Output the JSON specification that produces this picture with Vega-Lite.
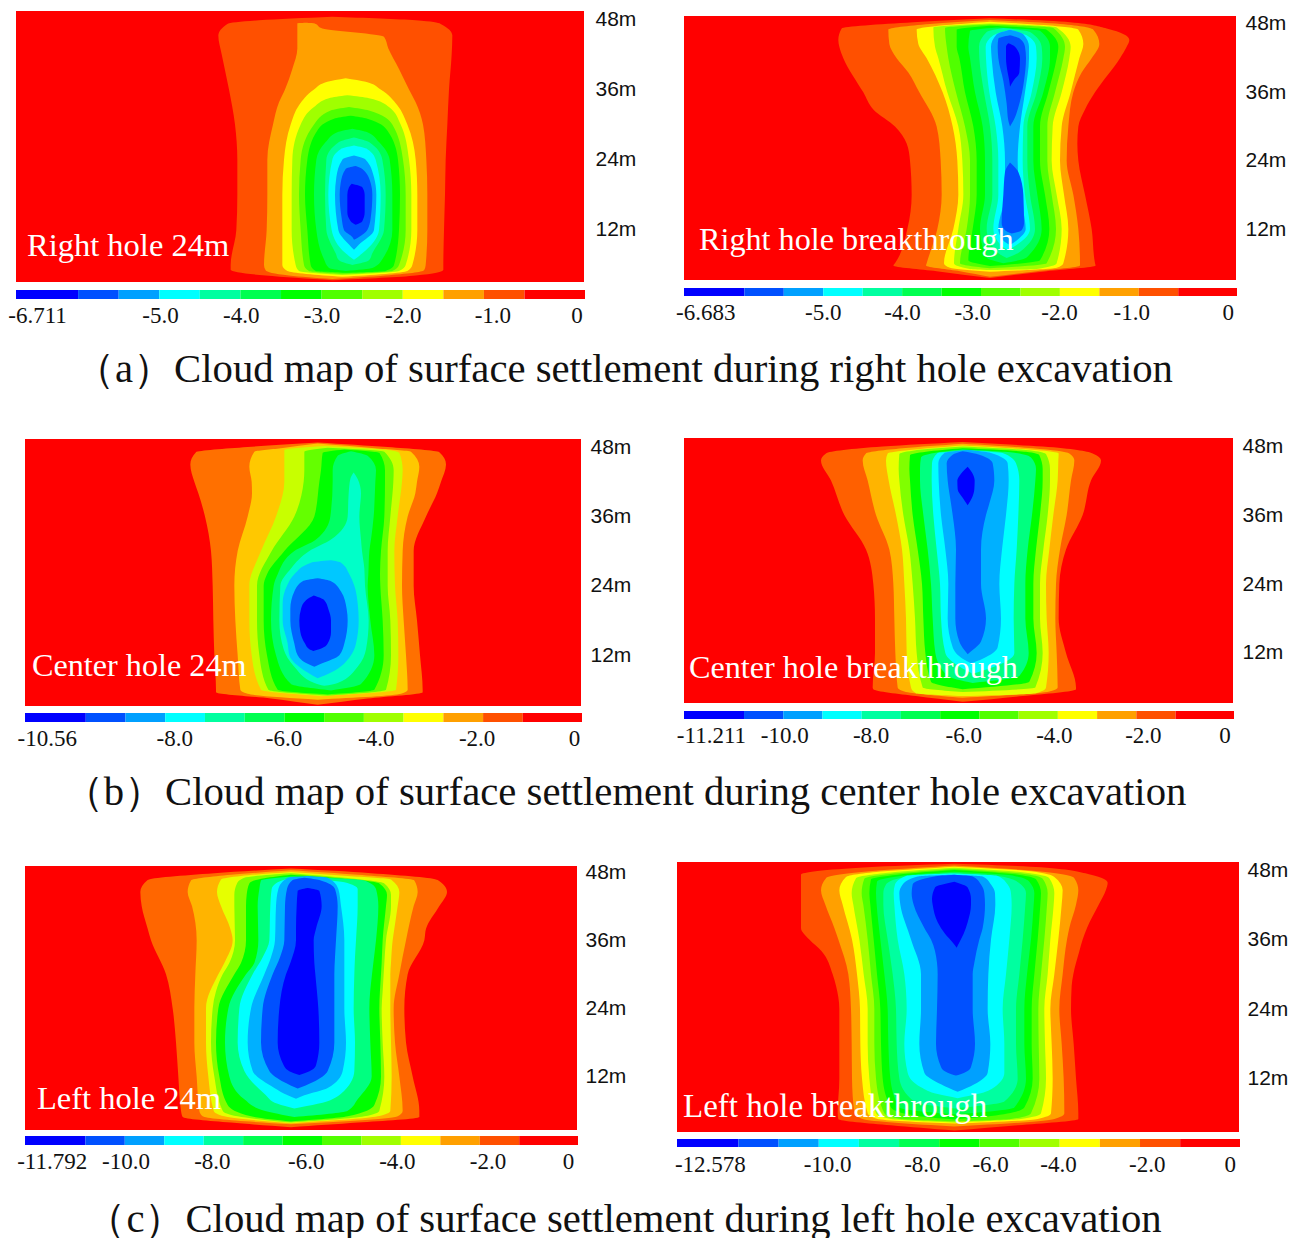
{"$schema":"https://vega.github.io/schema/vega-lite/v6.json","padding":{"left":8,"top":8,"right":0,"bottom":0},"background":"white",
"config":{"view":{"stroke":null},"axisY":{"labelFont":"Liberation Sans","labelFontSize":21,"labelColor":"#111111","ticks":false,"domain":false,"grid":false,"title":null},"area":{"orient":"horizontal","interpolate":"monotone","clip":true},"text":{"font":"Liberation Serif","color":"#111111"}},
"datasets":{"e":[{}],
"bar":[{"i":0,"j":1.53,"c":1},{"i":1.53,"j":2.53,"c":2},{"i":2.53,"j":3.53,"c":3},{"i":3.53,"j":4.53,"c":4},{"i":4.53,"j":5.53,"c":5},{"i":5.53,"j":6.53,"c":6},{"i":6.53,"j":7.53,"c":7},{"i":7.53,"j":8.53,"c":8},{"i":8.53,"j":9.53,"c":9},{"i":9.53,"j":10.53,"c":10},{"i":10.53,"j":11.53,"c":11},{"i":11.53,"j":12.53,"c":12},{"i":12.53,"j":14.02,"c":13}],
"al":[{"k":1,"y":48.4,"l":400,"r":400},{"k":1,"y":47.8,"l":180,"r":650},{"k":1,"y":47.2,"l":85,"r":725},{"k":1,"y":45.2,"l":58,"r":760},{"k":1,"y":42,"l":68,"r":758},{"k":1,"y":36,"l":90,"r":750},{"k":1,"y":30,"l":108,"r":745},{"k":1,"y":24,"l":115,"r":740},{"k":1,"y":18,"l":115,"r":738},{"k":1,"y":12,"l":112,"r":735},{"k":1,"y":6,"l":95,"r":733},{"k":1,"y":5.2,"l":95,"r":733},{"k":1,"y":4.2,"l":200,"r":650},{"k":1,"y":3.4,"l":400,"r":400},
{"k":2,"y":47.4,"l":320,"r":320},{"k":2,"y":47.3,"l":295,"r":345},{"k":2,"y":46.4,"l":295,"r":370},{"k":2,"y":45,"l":295,"r":555},{"k":2,"y":43,"l":295,"r":568},{"k":2,"y":39.5,"l":280,"r":600},{"k":2,"y":36,"l":258,"r":630},{"k":2,"y":33.8,"l":240,"r":650},{"k":2,"y":30,"l":222,"r":672},{"k":2,"y":24,"l":205,"r":682},{"k":2,"y":18,"l":205,"r":685},{"k":2,"y":12,"l":203,"r":685},{"k":2,"y":6,"l":195,"r":680},{"k":2,"y":5.1,"l":200,"r":675},{"k":2,"y":4.2,"l":270,"r":560},{"k":2,"y":3.6,"l":400,"r":400},
{"k":3,"y":37.9,"l":440,"r":440},{"k":3,"y":37.3,"l":385,"r":500},{"k":3,"y":36,"l":345,"r":545},{"k":3,"y":33.3,"l":300,"r":595},{"k":3,"y":30,"l":275,"r":625},{"k":3,"y":24,"l":255,"r":650},{"k":3,"y":18,"l":250,"r":655},{"k":3,"y":12,"l":250,"r":655},{"k":3,"y":6,"l":250,"r":640},{"k":3,"y":5,"l":265,"r":625},{"k":3,"y":4,"l":430,"r":430},
{"k":4,"y":35,"l":445,"r":445},{"k":4,"y":34.5,"l":390,"r":510},{"k":4,"y":33,"l":345,"r":570},{"k":4,"y":30,"l":305,"r":605},{"k":4,"y":24,"l":280,"r":630},{"k":4,"y":18,"l":278,"r":637},{"k":4,"y":12,"l":278,"r":637},{"k":4,"y":6,"l":290,"r":620},{"k":4,"y":5,"l":300,"r":600},{"k":4,"y":4.3,"l":430,"r":430},
{"k":5,"y":33,"l":450,"r":450},{"k":5,"y":32.4,"l":395,"r":510},{"k":5,"y":30,"l":345,"r":580},{"k":5,"y":24,"l":305,"r":612},{"k":5,"y":18,"l":300,"r":620},{"k":5,"y":12,"l":305,"r":620},{"k":5,"y":6,"l":315,"r":600},{"k":5,"y":5,"l":330,"r":580},{"k":5,"y":4.5,"l":430,"r":430},
{"k":6,"y":31.5,"l":455,"r":455},{"k":6,"y":31,"l":405,"r":505},{"k":6,"y":29,"l":355,"r":565},{"k":6,"y":24,"l":325,"r":597},{"k":6,"y":18,"l":318,"r":603},{"k":6,"y":12,"l":325,"r":600},{"k":6,"y":6,"l":335,"r":585},{"k":6,"y":5,"l":350,"r":560},{"k":6,"y":4.7,"l":440,"r":440},
{"k":7,"y":29.3,"l":460,"r":460},{"k":7,"y":28.7,"l":415,"r":505},{"k":7,"y":27,"l":380,"r":540},{"k":7,"y":24,"l":352,"r":572},{"k":7,"y":18,"l":345,"r":580},{"k":7,"y":12,"l":352,"r":580},{"k":7,"y":7,"l":375,"r":550},{"k":7,"y":5.5,"l":390,"r":520},{"k":7,"y":5,"l":440,"r":440},
{"k":8,"y":27.8,"l":465,"r":465},{"k":8,"y":27,"l":420,"r":510},{"k":8,"y":24,"l":382,"r":550},{"k":8,"y":18,"l":378,"r":560},{"k":8,"y":12,"l":382,"r":555},{"k":8,"y":8,"l":410,"r":520},{"k":8,"y":6.8,"l":420,"r":510},{"k":8,"y":6,"l":460,"r":460},
{"k":9,"y":26.4,"l":465,"r":465},{"k":9,"y":25.8,"l":425,"r":505},{"k":9,"y":24,"l":400,"r":530},{"k":9,"y":18,"l":388,"r":545},{"k":9,"y":12,"l":398,"r":540},{"k":9,"y":8,"l":440,"r":490},{"k":9,"y":6.9,"l":465,"r":465},
{"k":10,"y":24.7,"l":465,"r":465},{"k":10,"y":24,"l":430,"r":500},{"k":10,"y":21,"l":412,"r":525},{"k":10,"y":18,"l":408,"r":532},{"k":10,"y":12,"l":418,"r":525},{"k":10,"y":9.5,"l":450,"r":480},{"k":10,"y":8.6,"l":465,"r":465},
{"k":11,"y":22.9,"l":470,"r":470},{"k":11,"y":22.4,"l":440,"r":490},{"k":11,"y":20,"l":425,"r":515},{"k":11,"y":18,"l":422,"r":520},{"k":11,"y":14,"l":428,"r":515},{"k":11,"y":12,"l":435,"r":505},{"k":11,"y":10.8,"l":460,"r":480},{"k":11,"y":10.3,"l":465,"r":465},
{"k":12,"y":19.9,"l":458,"r":458},{"k":12,"y":19.3,"l":450,"r":490},{"k":12,"y":18,"l":445,"r":497},{"k":12,"y":15,"l":445,"r":497},{"k":12,"y":13.5,"l":455,"r":490},{"k":12,"y":12.9,"l":470,"r":470}],
"ar":[{"k":1,"y":49,"l":480,"r":480},{"k":1,"y":48.3,"l":250,"r":720},{"k":1,"y":47.2,"l":35,"r":830},{"k":1,"y":45.2,"l":25,"r":898},{"k":1,"y":44,"l":28,"r":890},{"k":1,"y":42,"l":40,"r":870},{"k":1,"y":36,"l":100,"r":795},{"k":1,"y":33,"l":130,"r":765},{"k":1,"y":30,"l":195,"r":745},{"k":1,"y":27,"l":230,"r":742},{"k":1,"y":24,"l":240,"r":745},{"k":1,"y":18,"l":245,"r":765},{"k":1,"y":12,"l":232,"r":785},{"k":1,"y":6,"l":195,"r":795},{"k":1,"y":5.6,"l":190,"r":797},{"k":1,"y":4.6,"l":320,"r":650},{"k":1,"y":3.4,"l":480,"r":480},
{"k":2,"y":48.7,"l":480,"r":480},{"k":2,"y":48,"l":300,"r":690},{"k":2,"y":47,"l":175,"r":790},{"k":2,"y":44.5,"l":178,"r":808},{"k":2,"y":42,"l":200,"r":785},{"k":2,"y":39.5,"l":235,"r":755},{"k":2,"y":36,"l":268,"r":730},{"k":2,"y":30,"l":320,"r":715},{"k":2,"y":24,"l":332,"r":710},{"k":2,"y":18,"l":335,"r":730},{"k":2,"y":12,"l":322,"r":745},{"k":2,"y":6,"l":290,"r":750},{"k":2,"y":5.6,"l":288,"r":750},{"k":2,"y":4.6,"l":390,"r":620},{"k":2,"y":3.6,"l":480,"r":480},
{"k":3,"y":48.4,"l":480,"r":480},{"k":3,"y":47.8,"l":350,"r":640},{"k":3,"y":47,"l":260,"r":745},{"k":3,"y":44.5,"l":265,"r":760},{"k":3,"y":42,"l":290,"r":748},{"k":3,"y":36,"l":338,"r":722},{"k":3,"y":30,"l":368,"r":695},{"k":3,"y":24,"l":382,"r":690},{"k":3,"y":18,"l":385,"r":702},{"k":3,"y":12,"l":370,"r":715},{"k":3,"y":6,"l":342,"r":700},{"k":3,"y":5.2,"l":360,"r":680},{"k":3,"y":4.5,"l":480,"r":480},
{"k":4,"y":48.1,"l":480,"r":480},{"k":4,"y":47.4,"l":310,"r":680},{"k":4,"y":44,"l":315,"r":722},{"k":4,"y":42,"l":325,"r":718},{"k":4,"y":36,"l":352,"r":695},{"k":4,"y":30,"l":385,"r":668},{"k":4,"y":24,"l":397,"r":665},{"k":4,"y":18,"l":400,"r":680},{"k":4,"y":12,"l":385,"r":695},{"k":4,"y":6,"l":372,"r":680},{"k":4,"y":5,"l":420,"r":620},{"k":4,"y":4.8,"l":480,"r":480},
{"k":5,"y":47.9,"l":480,"r":480},{"k":5,"y":47.3,"l":345,"r":670},{"k":5,"y":44,"l":350,"r":705},{"k":5,"y":42,"l":355,"r":700},{"k":5,"y":36,"l":378,"r":675},{"k":5,"y":30,"l":405,"r":652},{"k":5,"y":24,"l":420,"r":652},{"k":5,"y":18,"l":420,"r":665},{"k":5,"y":12,"l":410,"r":678},{"k":5,"y":6,"l":390,"r":650},{"k":5,"y":5.1,"l":480,"r":480},
{"k":6,"y":47.7,"l":480,"r":480},{"k":6,"y":47,"l":380,"r":650},{"k":6,"y":44,"l":380,"r":685},{"k":6,"y":42,"l":388,"r":680},{"k":6,"y":36,"l":405,"r":655},{"k":6,"y":30,"l":430,"r":630},{"k":6,"y":24,"l":440,"r":630},{"k":6,"y":18,"l":440,"r":645},{"k":6,"y":12,"l":428,"r":658},{"k":6,"y":6.5,"l":415,"r":630},{"k":6,"y":5.5,"l":480,"r":480},
{"k":7,"y":47.4,"l":500,"r":500},{"k":7,"y":46.8,"l":420,"r":630},{"k":7,"y":44,"l":415,"r":660},{"k":7,"y":42,"l":420,"r":660},{"k":7,"y":36,"l":435,"r":640},{"k":7,"y":30,"l":458,"r":610},{"k":7,"y":24,"l":465,"r":610},{"k":7,"y":18,"l":465,"r":622},{"k":7,"y":12,"l":450,"r":635},{"k":7,"y":7,"l":470,"r":590},{"k":7,"y":6,"l":520,"r":520},
{"k":8,"y":47.3,"l":520,"r":520},{"k":8,"y":46.6,"l":470,"r":600},{"k":8,"y":44,"l":447,"r":635},{"k":8,"y":42,"l":448,"r":637},{"k":8,"y":36,"l":462,"r":620},{"k":8,"y":30,"l":480,"r":592},{"k":8,"y":24,"l":487,"r":592},{"k":8,"y":18,"l":487,"r":600},{"k":8,"y":12,"l":470,"r":615},{"k":8,"y":8,"l":500,"r":570},{"k":8,"y":6.9,"l":530,"r":530},
{"k":9,"y":47,"l":540,"r":540},{"k":9,"y":46,"l":490,"r":590},{"k":9,"y":44,"l":467,"r":618},{"k":9,"y":42,"l":468,"r":620},{"k":9,"y":36,"l":478,"r":605},{"k":9,"y":30,"l":497,"r":580},{"k":9,"y":24,"l":505,"r":578},{"k":9,"y":18,"l":505,"r":585},{"k":9,"y":12,"l":490,"r":600},{"k":9,"y":9,"l":515,"r":555},{"k":9,"y":8.3,"l":535,"r":535},
{"k":10,"y":47,"l":540,"r":540},{"k":10,"y":46.2,"l":500,"r":580},{"k":10,"y":44,"l":483,"r":597},{"k":10,"y":42,"l":485,"r":597},{"k":10,"y":36,"l":497,"r":585},{"k":10,"y":30,"l":517,"r":570},{"k":10,"y":24,"l":525,"r":563},{"k":10,"y":18,"l":525,"r":570},{"k":10,"y":12,"l":505,"r":587},{"k":10,"y":10,"l":520,"r":560},{"k":10,"y":9.2,"l":540,"r":540},
{"k":11,"y":46,"l":540,"r":540},{"k":11,"y":45.4,"l":505,"r":570},{"k":11,"y":44,"l":503,"r":585},{"k":11,"y":42,"l":505,"r":588},{"k":11,"y":38,"l":520,"r":582},{"k":11,"y":34,"l":530,"r":568},{"k":11,"y":31,"l":535,"r":550},{"k":11,"y":30,"l":540,"r":540},
{"k":12,"y":44.6,"l":535,"r":535},{"k":12,"y":44,"l":528,"r":555},{"k":12,"y":42,"l":528,"r":570},{"k":12,"y":39.5,"l":533,"r":568},{"k":12,"y":38,"l":538,"r":550},{"k":12,"y":37,"l":540,"r":540},
{"k":14,"y":23.7,"l":540,"r":540},{"k":14,"y":22,"l":525,"r":565},{"k":14,"y":18,"l":520,"r":580},{"k":14,"y":13,"l":515,"r":582},{"k":14,"y":11.8,"l":525,"r":575},{"k":14,"y":11.2,"l":545,"r":545}],
"bl":[{"k":1,"y":48.8,"l":410,"r":410},{"k":1,"y":48,"l":200,"r":620},{"k":1,"y":47.1,"l":45,"r":775},{"k":1,"y":45,"l":28,"r":795},{"k":1,"y":42,"l":40,"r":780},{"k":1,"y":40,"l":52,"r":768},{"k":1,"y":36,"l":72,"r":735},{"k":1,"y":30,"l":90,"r":698},{"k":1,"y":24,"l":95,"r":698},{"k":1,"y":18,"l":97,"r":708},{"k":1,"y":12,"l":100,"r":717},{"k":1,"y":6,"l":105,"r":725},{"k":1,"y":5.6,"l":105,"r":725},{"k":1,"y":4.5,"l":270,"r":560},{"k":1,"y":3.4,"l":410,"r":410},
{"k":2,"y":48.6,"l":410,"r":410},{"k":2,"y":47.8,"l":300,"r":580},{"k":2,"y":47.2,"l":220,"r":690},{"k":2,"y":44.6,"l":205,"r":715},{"k":2,"y":42,"l":212,"r":708},{"k":2,"y":40,"l":213,"r":703},{"k":2,"y":36,"l":200,"r":680},{"k":2,"y":30,"l":170,"r":665},{"k":2,"y":24,"l":160,"r":663},{"k":2,"y":18,"l":163,"r":668},{"k":2,"y":12,"l":170,"r":675},{"k":2,"y":6,"l":178,"r":680},{"k":2,"y":5.3,"l":200,"r":660},{"k":2,"y":4.3,"l":410,"r":410},
{"k":3,"y":48.2,"l":430,"r":430},{"k":3,"y":47.5,"l":310,"r":620},{"k":3,"y":47,"l":310,"r":655},{"k":3,"y":44,"l":310,"r":665},{"k":3,"y":42,"l":310,"r":663},{"k":3,"y":36,"l":285,"r":650},{"k":3,"y":30,"l":240,"r":640},{"k":3,"y":24,"l":205,"r":642},{"k":3,"y":18,"l":205,"r":650},{"k":3,"y":12,"l":212,"r":652},{"k":3,"y":6,"l":240,"r":645},{"k":3,"y":4.9,"l":420,"r":420},
{"k":4,"y":47.9,"l":440,"r":440},{"k":4,"y":47.2,"l":370,"r":610},{"k":4,"y":44,"l":370,"r":638},{"k":4,"y":42,"l":368,"r":637},{"k":4,"y":36,"l":340,"r":628},{"k":4,"y":30,"l":272,"r":620},{"k":4,"y":24,"l":228,"r":620},{"k":4,"y":18,"l":228,"r":628},{"k":4,"y":12,"l":235,"r":630},{"k":4,"y":6,"l":262,"r":615},{"k":4,"y":5,"l":440,"r":440},
{"k":5,"y":47.6,"l":490,"r":490},{"k":5,"y":47,"l":425,"r":595},{"k":5,"y":44,"l":420,"r":612},{"k":5,"y":42,"l":415,"r":612},{"k":5,"y":36,"l":400,"r":610},{"k":5,"y":30,"l":310,"r":600},{"k":5,"y":26,"l":258,"r":597},{"k":5,"y":24,"l":248,"r":598},{"k":5,"y":18,"l":248,"r":605},{"k":5,"y":12,"l":258,"r":608},{"k":5,"y":6,"l":290,"r":580},{"k":5,"y":5.2,"l":440,"r":440},
{"k":6,"y":47.3,"l":510,"r":510},{"k":6,"y":46.5,"l":470,"r":560},{"k":6,"y":44,"l":455,"r":585},{"k":6,"y":42,"l":455,"r":583},{"k":6,"y":36,"l":448,"r":578},{"k":6,"y":32,"l":405,"r":570},{"k":6,"y":30,"l":340,"r":565},{"k":6,"y":26,"l":290,"r":562},{"k":6,"y":24,"l":278,"r":560},{"k":6,"y":18,"l":270,"r":568},{"k":6,"y":12,"l":285,"r":580},{"k":6,"y":7,"l":330,"r":540},{"k":6,"y":5.9,"l":450,"r":450},
{"k":7,"y":43.6,"l":518,"r":518},{"k":7,"y":42.5,"l":508,"r":530},{"k":7,"y":40,"l":503,"r":540},{"k":7,"y":36,"l":500,"r":535},{"k":7,"y":32,"l":450,"r":540},{"k":7,"y":30,"l":385,"r":543},{"k":7,"y":27,"l":330,"r":550},{"k":7,"y":24,"l":298,"r":552},{"k":7,"y":18,"l":295,"r":563},{"k":7,"y":13,"l":308,"r":555},{"k":7,"y":10,"l":340,"r":530},{"k":7,"y":7.2,"l":400,"r":470},{"k":7,"y":6.7,"l":430,"r":430},
{"k":8,"y":28.4,"l":450,"r":450},{"k":8,"y":28,"l":390,"r":480},{"k":8,"y":26,"l":340,"r":505},{"k":8,"y":24,"l":318,"r":520},{"k":8,"y":21,"l":305,"r":530},{"k":8,"y":18,"l":305,"r":533},{"k":8,"y":14,"l":320,"r":525},{"k":8,"y":12,"l":325,"r":510},{"k":8,"y":9,"l":380,"r":450},{"k":8,"y":8,"l":410,"r":410},
{"k":9,"y":25.3,"l":410,"r":410},{"k":9,"y":24.8,"l":365,"r":450},{"k":9,"y":23,"l":340,"r":480},{"k":9,"y":20,"l":328,"r":497},{"k":9,"y":18,"l":328,"r":500},{"k":9,"y":14,"l":340,"r":490},{"k":9,"y":12,"l":350,"r":475},{"k":9,"y":10.5,"l":380,"r":420},{"k":9,"y":10,"l":400,"r":400},
{"k":10,"y":22.3,"l":398,"r":398},{"k":10,"y":21.5,"l":375,"r":430},{"k":10,"y":20,"l":360,"r":442},{"k":10,"y":18,"l":355,"r":450},{"k":10,"y":16,"l":358,"r":450},{"k":10,"y":14,"l":372,"r":440},{"k":10,"y":13,"l":385,"r":415},{"k":10,"y":12.7,"l":397,"r":397}],
"br":[{"k":1,"y":48.7,"l":440,"r":440},{"k":1,"y":47.9,"l":200,"r":680},{"k":1,"y":46.7,"l":30,"r":830},{"k":1,"y":45.5,"l":15,"r":855},{"k":1,"y":42,"l":45,"r":825},{"k":1,"y":36,"l":85,"r":800},{"k":1,"y":30,"l":150,"r":750},{"k":1,"y":24,"l":172,"r":730},{"k":1,"y":18,"l":177,"r":728},{"k":1,"y":12,"l":177,"r":750},{"k":1,"y":6,"l":170,"r":780},{"k":1,"y":5.7,"l":172,"r":780},{"k":1,"y":4.5,"l":300,"r":620},{"k":1,"y":3.5,"l":440,"r":440},
{"k":2,"y":48.4,"l":440,"r":440},{"k":2,"y":47.6,"l":260,"r":650},{"k":2,"y":46.7,"l":150,"r":760},{"k":2,"y":45.5,"l":140,"r":775},{"k":2,"y":42,"l":155,"r":765},{"k":2,"y":36,"l":180,"r":752},{"k":2,"y":30,"l":220,"r":732},{"k":2,"y":24,"l":232,"r":720},{"k":2,"y":18,"l":235,"r":718},{"k":2,"y":12,"l":238,"r":722},{"k":2,"y":6,"l":245,"r":725},{"k":2,"y":5.3,"l":265,"r":700},{"k":2,"y":4.2,"l":440,"r":440},
{"k":3,"y":48.1,"l":440,"r":440},{"k":3,"y":47.3,"l":280,"r":660},{"k":3,"y":46.7,"l":215,"r":728},{"k":3,"y":45.5,"l":210,"r":727},{"k":3,"y":42,"l":218,"r":725},{"k":3,"y":36,"l":240,"r":712},{"k":3,"y":30,"l":258,"r":700},{"k":3,"y":24,"l":265,"r":690},{"k":3,"y":18,"l":270,"r":692},{"k":3,"y":12,"l":272,"r":698},{"k":3,"y":6,"l":285,"r":690},{"k":3,"y":5,"l":300,"r":660},{"k":3,"y":4.5,"l":440,"r":440},
{"k":4,"y":47.9,"l":440,"r":440},{"k":4,"y":47.2,"l":290,"r":650},{"k":4,"y":46.6,"l":250,"r":690},{"k":4,"y":44,"l":248,"r":702},{"k":4,"y":42,"l":250,"r":702},{"k":4,"y":36,"l":262,"r":695},{"k":4,"y":30,"l":280,"r":682},{"k":4,"y":24,"l":290,"r":672},{"k":4,"y":18,"l":297,"r":672},{"k":4,"y":12,"l":302,"r":680},{"k":4,"y":6,"l":320,"r":658},{"k":4,"y":5.2,"l":440,"r":440},
{"k":5,"y":47.6,"l":440,"r":440},{"k":5,"y":47,"l":330,"r":630},{"k":5,"y":46.4,"l":282,"r":670},{"k":5,"y":44,"l":280,"r":680},{"k":5,"y":42,"l":282,"r":680},{"k":5,"y":36,"l":290,"r":672},{"k":5,"y":30,"l":305,"r":660},{"k":5,"y":24,"l":318,"r":652},{"k":5,"y":18,"l":322,"r":652},{"k":5,"y":12,"l":328,"r":662},{"k":5,"y":7,"l":345,"r":640},{"k":5,"y":5.7,"l":440,"r":440},
{"k":6,"y":47.4,"l":440,"r":440},{"k":6,"y":46.8,"l":355,"r":600},{"k":6,"y":46,"l":315,"r":645},{"k":6,"y":44,"l":312,"r":660},{"k":6,"y":42,"l":312,"r":658},{"k":6,"y":36,"l":322,"r":648},{"k":6,"y":30,"l":335,"r":635},{"k":6,"y":24,"l":345,"r":628},{"k":6,"y":18,"l":350,"r":628},{"k":6,"y":12,"l":358,"r":638},{"k":6,"y":8,"l":395,"r":610},{"k":6,"y":6.8,"l":470,"r":470},
{"k":7,"y":47.2,"l":470,"r":470},{"k":7,"y":46.8,"l":365,"r":560},{"k":7,"y":45,"l":348,"r":600},{"k":7,"y":42,"l":347,"r":610},{"k":7,"y":36,"l":352,"r":607},{"k":7,"y":30,"l":362,"r":602},{"k":7,"y":24,"l":372,"r":595},{"k":7,"y":18,"l":375,"r":593},{"k":7,"y":12,"l":388,"r":595},{"k":7,"y":9.3,"l":440,"r":520},{"k":7,"y":8.4,"l":470,"r":470},
{"k":8,"y":47.3,"l":455,"r":455},{"k":8,"y":46.8,"l":385,"r":525},{"k":8,"y":45,"l":367,"r":575},{"k":8,"y":42,"l":368,"r":578},{"k":8,"y":36,"l":375,"r":570},{"k":8,"y":30,"l":388,"r":558},{"k":8,"y":24,"l":397,"r":550},{"k":8,"y":18,"l":395,"r":555},{"k":8,"y":13,"l":410,"r":545},{"k":8,"y":11,"l":440,"r":500},{"k":8,"y":10.2,"l":465,"r":465},
{"k":9,"y":47.1,"l":440,"r":440},{"k":9,"y":46.5,"l":410,"r":490},{"k":9,"y":45,"l":392,"r":530},{"k":9,"y":42,"l":395,"r":535},{"k":9,"y":38,"l":405,"r":520},{"k":9,"y":36,"l":410,"r":510},{"k":9,"y":30,"l":420,"r":495},{"k":9,"y":24,"l":418,"r":495},{"k":9,"y":18,"l":418,"r":510},{"k":9,"y":14,"l":430,"r":495},{"k":9,"y":12.5,"l":445,"r":470},{"k":9,"y":11.8,"l":455,"r":455},
{"k":10,"y":44.4,"l":455,"r":455},{"k":10,"y":43.2,"l":435,"r":470},{"k":10,"y":42,"l":424,"r":476},{"k":10,"y":40.5,"l":425,"r":475},{"k":10,"y":39,"l":440,"r":468},{"k":10,"y":37.7,"l":455,"r":455}],
"cl":[{"k":1,"y":48.6,"l":480,"r":480},{"k":1,"y":47.8,"l":250,"r":720},{"k":1,"y":46.6,"l":50,"r":920},{"k":1,"y":44.5,"l":28,"r":948},{"k":1,"y":42,"l":32,"r":925},{"k":1,"y":38,"l":50,"r":885},{"k":1,"y":36,"l":60,"r":880},{"k":1,"y":30,"l":105,"r":830},{"k":1,"y":24,"l":125,"r":820},{"k":1,"y":18,"l":135,"r":825},{"k":1,"y":12,"l":142,"r":845},{"k":1,"y":6,"l":150,"r":865},{"k":1,"y":4.9,"l":155,"r":865},{"k":1,"y":3.9,"l":300,"r":680},{"k":1,"y":3.1,"l":480,"r":480},
{"k":2,"y":48.3,"l":480,"r":480},{"k":2,"y":47.5,"l":300,"r":680},{"k":2,"y":46.5,"l":180,"r":850},{"k":2,"y":44.5,"l":170,"r":860},{"k":2,"y":42,"l":183,"r":848},{"k":2,"y":36,"l":197,"r":825},{"k":2,"y":30,"l":193,"r":805},{"k":2,"y":24,"l":190,"r":788},{"k":2,"y":18,"l":190,"r":792},{"k":2,"y":12,"l":197,"r":805},{"k":2,"y":6,"l":205,"r":815},{"k":2,"y":5,"l":215,"r":800},{"k":2,"y":3.6,"l":480,"r":480},
{"k":3,"y":48,"l":480,"r":480},{"k":3,"y":47.3,"l":330,"r":650},{"k":3,"y":46.7,"l":270,"r":780},{"k":3,"y":44.5,"l":258,"r":805},{"k":3,"y":42,"l":270,"r":800},{"k":3,"y":38,"l":298,"r":790},{"k":3,"y":36,"l":305,"r":785},{"k":3,"y":32,"l":280,"r":780},{"k":3,"y":30,"l":262,"r":778},{"k":3,"y":24,"l":225,"r":778},{"k":3,"y":18,"l":225,"r":780},{"k":3,"y":12,"l":232,"r":782},{"k":3,"y":6,"l":248,"r":778},{"k":3,"y":5,"l":280,"r":740},{"k":3,"y":3.8,"l":480,"r":480},
{"k":4,"y":47.8,"l":480,"r":480},{"k":4,"y":47,"l":340,"r":640},{"k":4,"y":46,"l":318,"r":760},{"k":4,"y":44,"l":310,"r":780},{"k":4,"y":42,"l":310,"r":780},{"k":4,"y":36,"l":312,"r":765},{"k":4,"y":32,"l":295,"r":760},{"k":4,"y":30,"l":275,"r":758},{"k":4,"y":27,"l":255,"r":755},{"k":4,"y":24,"l":245,"r":752},{"k":4,"y":18,"l":240,"r":755},{"k":4,"y":12,"l":250,"r":760},{"k":4,"y":6,"l":275,"r":745},{"k":4,"y":5,"l":320,"r":700},{"k":4,"y":3.9,"l":480,"r":480},
{"k":5,"y":47.5,"l":480,"r":480},{"k":5,"y":46.9,"l":400,"r":620},{"k":5,"y":46,"l":355,"r":745},{"k":5,"y":44,"l":347,"r":768},{"k":5,"y":42,"l":345,"r":765},{"k":5,"y":36,"l":345,"r":755},{"k":5,"y":32,"l":330,"r":752},{"k":5,"y":30,"l":310,"r":750},{"k":5,"y":24,"l":262,"r":745},{"k":5,"y":18,"l":255,"r":748},{"k":5,"y":12,"l":265,"r":750},{"k":5,"y":7,"l":290,"r":730},{"k":5,"y":5,"l":360,"r":650},{"k":5,"y":4.1,"l":480,"r":480},
{"k":6,"y":47.2,"l":480,"r":480},{"k":6,"y":46.5,"l":390,"r":700},{"k":6,"y":45,"l":385,"r":735},{"k":6,"y":42,"l":380,"r":742},{"k":6,"y":36,"l":382,"r":735},{"k":6,"y":32,"l":370,"r":727},{"k":6,"y":30,"l":345,"r":723},{"k":6,"y":24,"l":292,"r":715},{"k":6,"y":18,"l":282,"r":718},{"k":6,"y":12,"l":295,"r":722},{"k":6,"y":8,"l":340,"r":680},{"k":6,"y":6,"l":400,"r":650},{"k":6,"y":4.9,"l":490,"r":490},
{"k":7,"y":47,"l":480,"r":480},{"k":7,"y":46.2,"l":440,"r":640},{"k":7,"y":45,"l":422,"r":680},{"k":7,"y":42,"l":418,"r":680},{"k":7,"y":36,"l":415,"r":675},{"k":7,"y":33,"l":395,"r":672},{"k":7,"y":30,"l":365,"r":670},{"k":7,"y":24,"l":325,"r":668},{"k":7,"y":18,"l":320,"r":672},{"k":7,"y":13,"l":340,"r":670},{"k":7,"y":9,"l":400,"r":630},{"k":7,"y":7.2,"l":440,"r":560},{"k":7,"y":6.4,"l":490,"r":490},
{"k":8,"y":47.3,"l":530,"r":530},{"k":8,"y":47,"l":470,"r":590},{"k":8,"y":45,"l":442,"r":622},{"k":8,"y":42,"l":435,"r":630},{"k":8,"y":36,"l":432,"r":640},{"k":8,"y":33,"l":420,"r":640},{"k":8,"y":30,"l":400,"r":640},{"k":8,"y":24,"l":360,"r":640},{"k":8,"y":18,"l":350,"r":645},{"k":8,"y":13,"l":365,"r":635},{"k":8,"y":10,"l":430,"r":590},{"k":8,"y":8.7,"l":470,"r":520},{"k":8,"y":8.1,"l":495,"r":495},
{"k":9,"y":47,"l":520,"r":520},{"k":9,"y":46.6,"l":485,"r":565},{"k":9,"y":45,"l":468,"r":612},{"k":9,"y":42,"l":462,"r":620},{"k":9,"y":36,"l":460,"r":615},{"k":9,"y":33,"l":447,"r":612},{"k":9,"y":30,"l":425,"r":610},{"k":9,"y":24,"l":395,"r":610},{"k":9,"y":18,"l":390,"r":610},{"k":9,"y":13,"l":415,"r":590},{"k":9,"y":11,"l":460,"r":545},{"k":9,"y":9.9,"l":500,"r":500},
{"k":10,"y":45.2,"l":530,"r":530},{"k":10,"y":44.7,"l":500,"r":565},{"k":10,"y":42,"l":497,"r":572},{"k":10,"y":38,"l":495,"r":555},{"k":10,"y":36,"l":495,"r":548},{"k":10,"y":32,"l":478,"r":550},{"k":10,"y":30,"l":465,"r":553},{"k":10,"y":24,"l":445,"r":562},{"k":10,"y":18,"l":440,"r":565},{"k":10,"y":14,"l":458,"r":555},{"k":10,"y":12.8,"l":480,"r":530},{"k":10,"y":12.3,"l":505,"r":505}],
"cr":[{"k":1,"y":49.1,"l":490,"r":490},{"k":1,"y":48.5,"l":230,"r":750},{"k":1,"y":47.2,"l":30,"r":900},{"k":1,"y":45.8,"l":30,"r":950},{"k":1,"y":44.6,"l":30,"r":945},{"k":1,"y":42,"l":30,"r":923},{"k":1,"y":38,"l":30,"r":888},{"k":1,"y":36,"l":55,"r":875},{"k":1,"y":34,"l":92,"r":865},{"k":1,"y":30,"l":125,"r":847},{"k":1,"y":28,"l":135,"r":842},{"k":1,"y":24,"l":145,"r":840},{"k":1,"y":18,"l":145,"r":848},{"k":1,"y":12,"l":145,"r":855},{"k":1,"y":6,"l":140,"r":862},{"k":1,"y":5,"l":142,"r":862},{"k":1,"y":3.9,"l":300,"r":680},{"k":1,"y":3,"l":490,"r":490},
{"k":2,"y":48.8,"l":490,"r":490},{"k":2,"y":48,"l":280,"r":700},{"k":2,"y":46.6,"l":105,"r":850},{"k":2,"y":44.5,"l":90,"r":862},{"k":2,"y":42,"l":103,"r":855},{"k":2,"y":38,"l":130,"r":835},{"k":2,"y":36,"l":142,"r":828},{"k":2,"y":30,"l":172,"r":815},{"k":2,"y":24,"l":180,"r":805},{"k":2,"y":18,"l":182,"r":812},{"k":2,"y":12,"l":183,"r":818},{"k":2,"y":6,"l":190,"r":820},{"k":2,"y":5,"l":215,"r":790},{"k":2,"y":3.7,"l":490,"r":490},
{"k":3,"y":48.6,"l":490,"r":490},{"k":3,"y":47.8,"l":280,"r":720},{"k":3,"y":46.8,"l":165,"r":790},{"k":3,"y":44.5,"l":145,"r":815},{"k":3,"y":42,"l":155,"r":812},{"k":3,"y":36,"l":183,"r":802},{"k":3,"y":30,"l":198,"r":790},{"k":3,"y":24,"l":207,"r":778},{"k":3,"y":18,"l":208,"r":782},{"k":3,"y":12,"l":213,"r":785},{"k":3,"y":6,"l":230,"r":780},{"k":3,"y":5,"l":260,"r":740},{"k":3,"y":4.2,"l":490,"r":490},
{"k":4,"y":48.4,"l":490,"r":490},{"k":4,"y":47.6,"l":300,"r":700},{"k":4,"y":46.6,"l":195,"r":775},{"k":4,"y":44,"l":182,"r":790},{"k":4,"y":42,"l":187,"r":788},{"k":4,"y":36,"l":205,"r":778},{"k":4,"y":30,"l":218,"r":770},{"k":4,"y":24,"l":230,"r":760},{"k":4,"y":18,"l":230,"r":762},{"k":4,"y":12,"l":235,"r":765},{"k":4,"y":6,"l":255,"r":750},{"k":4,"y":5,"l":300,"r":690},{"k":4,"y":4.4,"l":490,"r":490},
{"k":5,"y":48.2,"l":490,"r":490},{"k":5,"y":47.4,"l":310,"r":690},{"k":5,"y":46.5,"l":220,"r":755},{"k":5,"y":44,"l":212,"r":770},{"k":5,"y":42,"l":217,"r":768},{"k":5,"y":36,"l":230,"r":760},{"k":5,"y":30,"l":240,"r":750},{"k":5,"y":24,"l":250,"r":742},{"k":5,"y":18,"l":250,"r":743},{"k":5,"y":12,"l":255,"r":745},{"k":5,"y":6,"l":280,"r":720},{"k":5,"y":5,"l":330,"r":660},{"k":5,"y":4.6,"l":490,"r":490},
{"k":6,"y":48,"l":490,"r":490},{"k":6,"y":47.2,"l":320,"r":680},{"k":6,"y":46.4,"l":240,"r":735},{"k":6,"y":44,"l":235,"r":750},{"k":6,"y":42,"l":238,"r":748},{"k":6,"y":36,"l":248,"r":740},{"k":6,"y":30,"l":258,"r":730},{"k":6,"y":24,"l":268,"r":722},{"k":6,"y":18,"l":270,"r":722},{"k":6,"y":12,"l":275,"r":725},{"k":6,"y":7,"l":300,"r":700},{"k":6,"y":5.5,"l":380,"r":600},{"k":6,"y":4.9,"l":490,"r":490},
{"k":7,"y":47.7,"l":490,"r":490},{"k":7,"y":47,"l":330,"r":670},{"k":7,"y":46,"l":258,"r":715},{"k":7,"y":44,"l":255,"r":730},{"k":7,"y":42,"l":257,"r":728},{"k":7,"y":36,"l":268,"r":720},{"k":7,"y":30,"l":280,"r":708},{"k":7,"y":24,"l":290,"r":700},{"k":7,"y":18,"l":292,"r":700},{"k":7,"y":12,"l":298,"r":705},{"k":7,"y":7,"l":325,"r":670},{"k":7,"y":5.8,"l":490,"r":490},
{"k":8,"y":47.5,"l":490,"r":490},{"k":8,"y":46.8,"l":340,"r":640},{"k":8,"y":45.5,"l":285,"r":690},{"k":8,"y":44,"l":277,"r":705},{"k":8,"y":42,"l":277,"r":703},{"k":8,"y":36,"l":290,"r":695},{"k":8,"y":30,"l":305,"r":685},{"k":8,"y":24,"l":315,"r":675},{"k":8,"y":18,"l":317,"r":675},{"k":8,"y":12,"l":325,"r":680},{"k":8,"y":8,"l":370,"r":640},{"k":8,"y":6.8,"l":490,"r":490},
{"k":9,"y":47.4,"l":480,"r":480},{"k":9,"y":47,"l":345,"r":620},{"k":9,"y":45.5,"l":312,"r":650},{"k":9,"y":44,"l":308,"r":660},{"k":9,"y":42,"l":310,"r":662},{"k":9,"y":36,"l":320,"r":655},{"k":9,"y":30,"l":340,"r":645},{"k":9,"y":24,"l":347,"r":635},{"k":9,"y":18,"l":340,"r":640},{"k":9,"y":13,"l":350,"r":640},{"k":9,"y":10.5,"l":390,"r":610},{"k":9,"y":9.3,"l":440,"r":560},{"k":9,"y":8.6,"l":500,"r":500},
{"k":10,"y":47.2,"l":480,"r":480},{"k":10,"y":46.9,"l":380,"r":575},{"k":10,"y":45.5,"l":335,"r":600},{"k":10,"y":44,"l":325,"r":612},{"k":10,"y":42,"l":328,"r":613},{"k":10,"y":36,"l":360,"r":600},{"k":10,"y":30,"l":390,"r":592},{"k":10,"y":24,"l":390,"r":590},{"k":10,"y":18,"l":385,"r":598},{"k":10,"y":13,"l":400,"r":590},{"k":10,"y":11,"l":450,"r":550},{"k":10,"y":9.7,"l":500,"r":500},
{"k":11,"y":47.2,"l":490,"r":490},{"k":11,"y":46.9,"l":430,"r":545},{"k":11,"y":45.5,"l":365,"r":570},{"k":11,"y":44,"l":362,"r":580},{"k":11,"y":42,"l":368,"r":582},{"k":11,"y":38,"l":400,"r":575},{"k":11,"y":36,"l":420,"r":565},{"k":11,"y":32,"l":438,"r":550},{"k":11,"y":30,"l":440,"r":545},{"k":11,"y":24,"l":438,"r":545},{"k":11,"y":18,"l":435,"r":552},{"k":11,"y":14,"l":450,"r":540},{"k":11,"y":13,"l":470,"r":520},{"k":11,"y":12.5,"l":495,"r":495},
{"k":12,"y":46,"l":490,"r":490},{"k":12,"y":45,"l":432,"r":530},{"k":12,"y":43,"l":423,"r":540},{"k":12,"y":42,"l":425,"r":540},{"k":12,"y":39,"l":440,"r":530},{"k":12,"y":37,"l":462,"r":518},{"k":12,"y":35.5,"l":485,"r":505},{"k":12,"y":34.6,"l":497,"r":497}]},
"spacing":0,"resolve":{"scale":{"color":"independent"}},
"vconcat":[
{"spacing":0,"resolve":{"scale":{"color":"independent"}},"hconcat":[
 {"bounds":"flush","spacing":0,"resolve":{"scale":{"color":"independent"}},"vconcat":[
  {"width":568,"height":271,"view":{"fill":"#ff0000"},"layer":[{"data":{"name":"al"},"mark":"area","encoding":{"x":{"field":"l","type":"quantitative","stack":null,"axis":null,"scale":{"domain":[-549,1155],"nice":false,"zero":false}},"x2":{"field":"r"},"y":{"field":"y","type":"quantitative","scale":{"domain":[3.1,49.4],"nice":false,"zero":false},"axis":{"orient":"right","values":[12,24,36,48],"labelExpr":"datum.value+'m'","labelPadding":11}},"color":{"field":"k","type":"nominal","legend":null,"scale":{"domain":[1,2,3,4,5,6,7,8,9,10,11,12],"range":["#ff5000","#ffa000","#ffff00","#a0ff00","#50ff00","#00ff00","#00ff50","#00ffa0","#00ffff","#00a0ff","#0050ff","#0000ff"]}}}},{"data":{"values":[{"x":-516,"y":9.3,"t":"Right hole 24m"}]},"mark":{"type":"text","align":"left","fontSize":32.5,"color":"white"},"encoding":{"x":{"field":"x","type":"quantitative"},"y":{"field":"y","type":"quantitative"},"text":{"field":"t"}}}]},
  {"width":1,"height":8,"data":{"name":"e"},"mark":{"type":"rect","opacity":0},"encoding":{}},
  {"width":569,"height":9,"layer":[{"data":{"name":"bar"},"mark":"rect","encoding":{"x":{"field":"i","type":"quantitative","axis":null,"scale":{"domain":[0,14.02],"nice":false}},"x2":{"field":"j"},"color":{"field":"c","type":"nominal","legend":null,"scale":{"domain":[1,2,3,4,5,6,7,8,9,10,11,12,13],"range":["#0000ff","#0050ff","#00a0ff","#00ffff","#00ffa0","#00ff50","#00ff00","#50ff00","#a0ff00","#ffff00","#ffa000","#ff5000","#ff0000"]}}}},{"data":{"values":[{"p":0.53,"t":"-6.711"},{"p":3.56,"t":"-5.0"},{"p":5.55,"t":"-4.0"},{"p":7.54,"t":"-3.0"},{"p":9.54,"t":"-2.0"},{"p":11.75,"t":"-1.0"},{"p":13.82,"t":"0"}]},"mark":{"type":"text","fontSize":23,"dy":21},"encoding":{"x":{"field":"p","type":"quantitative"},"text":{"field":"t"}}}]}
 ]},
 {"width":39,"height":1,"data":{"name":"e"},"mark":{"type":"rect","opacity":0},"encoding":{}},
 {"bounds":"flush","spacing":0,"resolve":{"scale":{"color":"independent"}},"vconcat":[
  {"width":1,"height":5,"data":{"name":"e"},"mark":{"type":"rect","opacity":0},"encoding":{}},
  {"width":552,"height":264,"view":{"fill":"#ff0000"},"layer":[{"data":{"name":"ar"},"mark":"area","encoding":{"x":{"field":"l","type":"quantitative","stack":null,"axis":null,"scale":{"domain":[-438,1218],"nice":false,"zero":false}},"x2":{"field":"r"},"y":{"field":"y","type":"quantitative","scale":{"domain":[3.05,49.4],"nice":false,"zero":false},"axis":{"orient":"right","values":[12,24,36,48],"labelExpr":"datum.value+'m'","labelPadding":9}},"color":{"field":"k","type":"nominal","legend":null,"scale":{"domain":[1,2,3,4,5,6,7,8,9,10,11,12,14],"range":["#ff5000","#ffa000","#ffff00","#a0ff00","#50ff00","#00ff00","#00ff50","#00ffa0","#00ffff","#00a0ff","#0050ff","#0000ff","#0050ff"]}}}},{"data":{"values":[{"x":-393,"y":10.07,"t":"Right hole breakthrough"}]},"mark":{"type":"text","align":"left","fontSize":32.2,"color":"white"},"encoding":{"x":{"field":"x","type":"quantitative"},"y":{"field":"y","type":"quantitative"},"text":{"field":"t"}}}]},
  {"width":1,"height":8,"data":{"name":"e"},"mark":{"type":"rect","opacity":0},"encoding":{}},
  {"width":553,"height":8,"layer":[{"data":{"name":"bar"},"mark":"rect","encoding":{"x":{"field":"i","type":"quantitative","axis":null,"scale":{"domain":[0,14.02],"nice":false}},"x2":{"field":"j"},"color":{"field":"c","type":"nominal","legend":null,"scale":{"domain":[1,2,3,4,5,6,7,8,9,10,11,12,13],"range":["#0000ff","#0050ff","#00a0ff","#00ffff","#00ffa0","#00ff50","#00ff00","#50ff00","#a0ff00","#ffff00","#ffa000","#ff5000","#ff0000"]}}}},{"data":{"values":[{"p":0.55,"t":"-6.683"},{"p":3.53,"t":"-5.0"},{"p":5.54,"t":"-4.0"},{"p":7.32,"t":"-3.0"},{"p":9.52,"t":"-2.0"},{"p":11.35,"t":"-1.0"},{"p":13.8,"t":"0"}]},"mark":{"type":"text","fontSize":23,"dy":21},"encoding":{"x":{"field":"p","type":"quantitative"},"text":{"field":"t"}}}]}
 ]}
]},
{"width":1,"height":107,"data":{"values":[{"t":"（a）Cloud map of surface settlement during right hole excavation"}]},"mark":{"type":"text","fontSize":40.7,"dx":607,"dy":-11.5},"encoding":{"text":{"field":"t"}}},
{"spacing":0,"resolve":{"scale":{"color":"independent"}},"hconcat":[
 {"width":1,"height":1,"data":{"name":"e"},"mark":{"type":"rect","opacity":0},"encoding":{}},
 {"bounds":"flush","spacing":0,"resolve":{"scale":{"color":"independent"}},"vconcat":[
  {"width":1,"height":1,"data":{"name":"e"},"mark":{"type":"rect","opacity":0},"encoding":{}},
  {"width":556,"height":267,"view":{"fill":"#ff0000"},"layer":[{"data":{"name":"bl"},"mark":"area","encoding":{"x":{"field":"l","type":"quantitative","stack":null,"axis":null,"scale":{"domain":[-468,1200],"nice":false,"zero":false}},"x2":{"field":"r"},"y":{"field":"y","type":"quantitative","scale":{"domain":[3.2,49.4],"nice":false,"zero":false},"axis":{"orient":"right","values":[12,24,36,48],"labelExpr":"datum.value+'m'","labelPadding":9}},"color":{"field":"k","type":"nominal","legend":null,"scale":{"domain":[1,2,3,4,5,6,7,8,9,10],"range":["#ff7000","#ffc800","#c8ff00","#64ff00","#00ff00","#00ff64","#00ffc8","#00c8ff","#0064ff","#0000ff"]}}}},{"data":{"values":[{"x":-447,"y":10.1,"t":"Center hole 24m"}]},"mark":{"type":"text","align":"left","fontSize":32.2,"color":"white"},"encoding":{"x":{"field":"x","type":"quantitative"},"y":{"field":"y","type":"quantitative"},"text":{"field":"t"}}}]},
  {"width":1,"height":7,"data":{"name":"e"},"mark":{"type":"rect","opacity":0},"encoding":{}},
  {"width":557,"height":9,"layer":[{"data":{"name":"bar"},"mark":"rect","encoding":{"x":{"field":"i","type":"quantitative","axis":null,"scale":{"domain":[0,14.02],"nice":false}},"x2":{"field":"j"},"color":{"field":"c","type":"nominal","legend":null,"scale":{"domain":[1,2,3,4,5,6,7,8,9,10,11,12,13],"range":["#0000ff","#0050ff","#00a0ff","#00ffff","#00ffa0","#00ff50","#00ff00","#50ff00","#a0ff00","#ffff00","#ffa000","#ff5000","#ff0000"]}}}},{"data":{"values":[{"p":0.56,"t":"-10.56"},{"p":3.77,"t":"-8.0"},{"p":6.52,"t":"-6.0"},{"p":8.84,"t":"-4.0"},{"p":11.38,"t":"-2.0"},{"p":13.83,"t":"0"}]},"mark":{"type":"text","fontSize":23,"dy":21},"encoding":{"x":{"field":"p","type":"quantitative"},"text":{"field":"t"}}}]}
 ]},
 {"width":45,"height":1,"data":{"name":"e"},"mark":{"type":"rect","opacity":0},"encoding":{}},
 {"bounds":"flush","spacing":0,"resolve":{"scale":{"color":"independent"}},"vconcat":[
  {"width":549,"height":265,"view":{"fill":"#ff0000"},"layer":[{"data":{"name":"br"},"mark":"area","encoding":{"x":{"field":"l","type":"quantitative","stack":null,"axis":null,"scale":{"domain":[-396,1251],"nice":false,"zero":false}},"x2":{"field":"r"},"y":{"field":"y","type":"quantitative","scale":{"domain":[3.3,49.4],"nice":false,"zero":false},"axis":{"orient":"right","values":[12,24,36,48],"labelExpr":"datum.value+'m'","labelPadding":9}},"color":{"field":"k","type":"nominal","legend":null,"scale":{"domain":[1,2,3,4,5,6,7,8,9,10],"range":["#ff6000","#ffb400","#e8ff00","#80ff00","#00ff00","#00ff80","#00ffff","#00b0ff","#0060ff","#0000ff"]}}}},{"data":{"values":[{"x":-381,"y":9.4,"t":"Center hole breakthrough"}]},"mark":{"type":"text","align":"left","fontSize":32.2,"color":"white"},"encoding":{"x":{"field":"x","type":"quantitative"},"y":{"field":"y","type":"quantitative"},"text":{"field":"t"}}}]},
  {"width":1,"height":8,"data":{"name":"e"},"mark":{"type":"rect","opacity":0},"encoding":{}},
  {"width":550,"height":8,"layer":[{"data":{"name":"bar"},"mark":"rect","encoding":{"x":{"field":"i","type":"quantitative","axis":null,"scale":{"domain":[0,14.02],"nice":false}},"x2":{"field":"j"},"color":{"field":"c","type":"nominal","legend":null,"scale":{"domain":[1,2,3,4,5,6,7,8,9,10,11,12,13],"range":["#0000ff","#0050ff","#00a0ff","#00ffff","#00ffa0","#00ff50","#00ff00","#50ff00","#a0ff00","#ffff00","#ffa000","#ff5000","#ff0000"]}}}},{"data":{"values":[{"p":0.7,"t":"-11.211"},{"p":2.57,"t":"-10.0"},{"p":4.77,"t":"-8.0"},{"p":7.13,"t":"-6.0"},{"p":9.44,"t":"-4.0"},{"p":11.71,"t":"-2.0"},{"p":13.79,"t":"0"}]},"mark":{"type":"text","fontSize":23,"dy":21},"encoding":{"x":{"field":"p","type":"quantitative"},"text":{"field":"t"}}}]}
 ]}
]},
{"width":1,"height":108,"data":{"values":[{"t":"（b）Cloud map of surface settlement during center hole excavation"}]},"mark":{"type":"text","fontSize":40.7,"dx":608,"dy":-12},"encoding":{"text":{"field":"t"}}},
{"spacing":0,"resolve":{"scale":{"color":"independent"}},"hconcat":[
 {"width":1,"height":1,"data":{"name":"e"},"mark":{"type":"rect","opacity":0},"encoding":{}},
 {"bounds":"flush","spacing":0,"resolve":{"scale":{"color":"independent"}},"vconcat":[
  {"width":1,"height":4,"data":{"name":"e"},"mark":{"type":"rect","opacity":0},"encoding":{}},
  {"width":552,"height":264,"view":{"fill":"#ff0000"},"layer":[{"data":{"name":"cl"},"mark":"area","encoding":{"x":{"field":"l","type":"quantitative","stack":null,"axis":null,"scale":{"domain":[-318,1338],"nice":false,"zero":false}},"x2":{"field":"r"},"y":{"field":"y","type":"quantitative","scale":{"domain":[2.6,49.06],"nice":false,"zero":false},"axis":{"orient":"right","values":[12,24,36,48],"labelExpr":"datum.value+'m'","labelPadding":8}},"color":{"field":"k","type":"nominal","legend":null,"scale":{"domain":[1,2,3,4,5,6,7,8,9,10],"range":["#ff6600","#ffb400","#e6ff00","#80ff00","#00ff00","#00ff80","#00ffff","#00b0ff","#0050ff","#0000ff"]}}}},{"data":{"values":[{"x":-282,"y":8,"t":"Left hole 24m"}]},"mark":{"type":"text","align":"left","fontSize":32.5,"color":"white"},"encoding":{"x":{"field":"x","type":"quantitative"},"y":{"field":"y","type":"quantitative"},"text":{"field":"t"}}}]},
  {"width":1,"height":6,"data":{"name":"e"},"mark":{"type":"rect","opacity":0},"encoding":{}},
  {"width":553,"height":9,"layer":[{"data":{"name":"bar"},"mark":"rect","encoding":{"x":{"field":"i","type":"quantitative","axis":null,"scale":{"domain":[0,14.02],"nice":false}},"x2":{"field":"j"},"color":{"field":"c","type":"nominal","legend":null,"scale":{"domain":[1,2,3,4,5,6,7,8,9,10,11,12,13],"range":["#0000ff","#0050ff","#00a0ff","#00ffff","#00ffa0","#00ff50","#00ff00","#50ff00","#a0ff00","#ffff00","#ffa000","#ff5000","#ff0000"]}}}},{"data":{"values":[{"p":0.69,"t":"-11.792"},{"p":2.56,"t":"-10.0"},{"p":4.75,"t":"-8.0"},{"p":7.13,"t":"-6.0"},{"p":9.44,"t":"-4.0"},{"p":11.74,"t":"-2.0"},{"p":13.78,"t":"0"}]},"mark":{"type":"text","fontSize":23,"dy":21},"encoding":{"x":{"field":"p","type":"quantitative"},"text":{"field":"t"}}}]}
 ]},
 {"width":48,"height":1,"data":{"name":"e"},"mark":{"type":"rect","opacity":0},"encoding":{}},
 {"bounds":"flush","spacing":0,"resolve":{"scale":{"color":"independent"}},"vconcat":[
  {"width":562,"height":270,"view":{"fill":"#ff0000"},"layer":[{"data":{"name":"cr"},"mark":"area","encoding":{"x":{"field":"l","type":"quantitative","stack":null,"axis":null,"scale":{"domain":[-342,1344],"nice":false,"zero":false}},"x2":{"field":"r"},"y":{"field":"y","type":"quantitative","scale":{"domain":[2.75,49.4],"nice":false,"zero":false},"axis":{"orient":"right","values":[12,24,36,48],"labelExpr":"datum.value+'m'","labelPadding":8}},"color":{"field":"k","type":"nominal","legend":null,"scale":{"domain":[1,2,3,4,5,6,7,8,9,10,11,12],"range":["#ff5000","#ffa000","#ffff00","#a0ff00","#50ff00","#00ff00","#00ff50","#00ffa0","#00ffff","#00a0ff","#0050ff","#0000ff"]}}}},{"data":{"values":[{"x":-324,"y":7,"t":"Left hole breakthrough"}]},"mark":{"type":"text","align":"left","fontSize":33,"color":"white"},"encoding":{"x":{"field":"x","type":"quantitative"},"y":{"field":"y","type":"quantitative"},"text":{"field":"t"}}}]},
  {"width":1,"height":7,"data":{"name":"e"},"mark":{"type":"rect","opacity":0},"encoding":{}},
  {"width":563,"height":8,"layer":[{"data":{"name":"bar"},"mark":"rect","encoding":{"x":{"field":"i","type":"quantitative","axis":null,"scale":{"domain":[0,14.02],"nice":false}},"x2":{"field":"j"},"color":{"field":"c","type":"nominal","legend":null,"scale":{"domain":[1,2,3,4,5,6,7,8,9,10,11,12,13],"range":["#0000ff","#0050ff","#00a0ff","#00ffff","#00ffa0","#00ff50","#00ff00","#50ff00","#a0ff00","#ffff00","#ffa000","#ff5000","#ff0000"]}}}},{"data":{"values":[{"p":0.83,"t":"-12.578"},{"p":3.75,"t":"-10.0"},{"p":6.11,"t":"-8.0"},{"p":7.81,"t":"-6.0"},{"p":9.5,"t":"-4.0"},{"p":11.71,"t":"-2.0"},{"p":13.78,"t":"0"}]},"mark":{"type":"text","fontSize":23,"dy":22},"encoding":{"x":{"field":"p","type":"quantitative"},"text":{"field":"t"}}}]}
 ]}
]},
{"width":1,"height":50,"data":{"values":[{"t":"（c）Cloud map of surface settlement during left hole excavation"}]},"mark":{"type":"text","fontSize":40.7,"dx":607,"dy":18},"encoding":{"text":{"field":"t"}}}
]}
